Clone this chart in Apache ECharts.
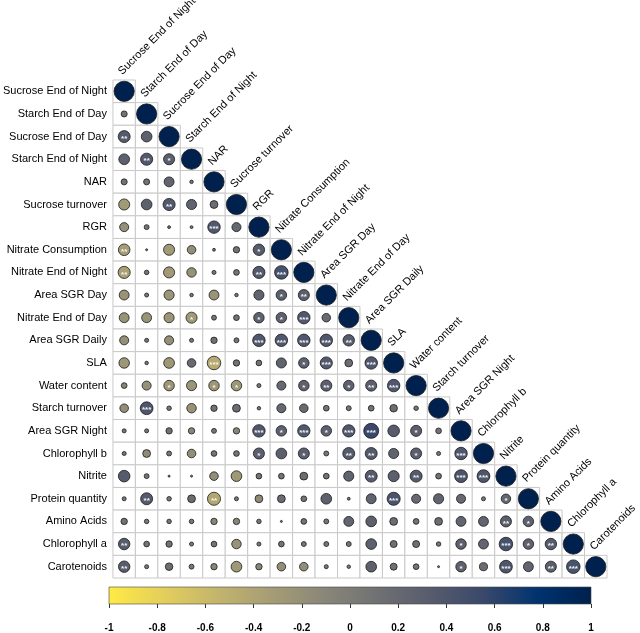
<!DOCTYPE html>
<html><head><meta charset="utf-8">
<script src="https://cdn.jsdelivr.net/npm/echarts@6/dist/echarts.min.js"></script>
<style>html,body{margin:0;padding:0;background:#fff}#c{width:640px;height:633px}</style>
</head><body><div id="c"></div>
<script>
const variables = ['Sucrose End of Night','Starch End of Day','Sucrose End of Day','Starch End of Night','NAR','Sucrose turnover','RGR','Nitrate Consumption','Nitrate End of Night','Area SGR Day','Nitrate End of Day','Area SGR Daily','SLA','Water content','Starch turnover','Area SGR Night','Chlorophyll b','Nitrite','Protein quantity','Amino Acids','Chlorophyll a','Carotenoids'];

// lower-triangle correlations: row i lists columns 0..i-1 (diagonal = 1)
const corrRows = [
  [],
  [0.09],
  [0.35, 0.28],
  [0.28, 0.36, 0.30],
  [0.09, 0.09, 0.24, 0.03],
  [-0.30, 0.28, 0.36, 0.25, 0.15],
  [-0.20, 0.06, 0.02, 0.02, 0.38, 0.20],
  [-0.33, 0.01, -0.30, -0.18, 0.02, 0.10, 0.32],
  [-0.36, 0.05, -0.30, -0.22, 0.04, 0.08, 0.36, 0.45],
  [-0.24, 0.04, -0.25, 0.03, -0.24, 0.03, 0.25, 0.27, 0.30],
  [-0.24, -0.24, -0.25, -0.30, 0.06, 0.08, 0.27, 0.27, 0.38, 0.18],
  [-0.20, 0.04, -0.20, 0.04, 0.10, 0.06, 0.38, 0.38, 0.38, 0.38, 0.32],
  [-0.27, 0.03, -0.28, 0.18, -0.45, 0.10, 0.08, 0.25, 0.27, 0.36, 0.15, 0.38],
  [-0.08, -0.20, -0.27, -0.25, -0.27, -0.27, 0.04, 0.20, 0.27, 0.30, 0.27, 0.30, 0.38],
  [-0.18, 0.40, 0.05, -0.22, 0.10, 0.15, 0.03, 0.20, 0.18, 0.08, 0.06, 0.08, 0.14, 0.05],
  [0.04, 0.04, 0.10, -0.10, 0.06, -0.10, 0.38, 0.27, 0.37, 0.27, 0.37, 0.55, 0.33, 0.30, 0.08],
  [0.04, -0.15, 0.06, -0.18, 0.08, 0.08, 0.30, 0.28, 0.30, 0.06, 0.35, 0.35, 0.25, 0.30, 0.04, 0.38],
  [0.33, 0.06, 0.01, 0.01, -0.18, -0.28, 0.08, 0.08, 0.15, 0.08, 0.25, 0.35, 0.30, 0.35, 0.08, 0.40, 0.40],
  [0.04, 0.35, 0.05, 0.15, -0.42, 0.04, -0.15, 0.15, 0.08, 0.28, 0.02, 0.24, 0.42, 0.20, 0.25, 0.20, 0.04, 0.22],
  [0.10, 0.05, 0.05, 0.05, -0.10, -0.10, 0.05, 0.01, 0.08, 0.06, 0.24, 0.28, 0.15, 0.08, 0.15, 0.24, 0.24, 0.30, 0.27],
  [0.32, 0.08, 0.10, 0.04, 0.08, -0.22, 0.04, 0.08, 0.06, 0.06, 0.06, 0.28, 0.12, 0.12, 0.05, 0.27, 0.24, 0.45, 0.27, 0.32],
  [0.32, 0.04, 0.14, 0.06, -0.10, -0.28, -0.10, -0.18, -0.18, 0.04, 0.03, 0.28, 0.12, 0.08, 0.01, 0.27, 0.16, 0.40, 0.24, 0.30, 0.45]
];

const sigRows = [
  [],
  [''],
  ['**',''],
  ['','**','*'],
  ['','','',''],
  ['','','**','',''],
  ['','','','','***',''],
  ['**','','','','','','*'],
  ['**','','','','','','**','***'],
  ['','','','','','','','*','**'],
  ['','','','*','','','*','*','***',''],
  ['','','','','','','***','***','***','***','**'],
  ['','','','','***','','','','*','***','','***'],
  ['','','*','','*','*','','','*','**','*','**','***'],
  ['','***','','','','','','','','','','','',''],
  ['','','','','','','***','*','***','*','***','***','','*',''],
  ['','','','','','','*','','*','','**','**','','*','','***'],
  ['','','','','','','','','','','','**','','**','','***','***'],
  ['','**','','','**','','','','','','','','***','','','','','*'],
  ['','','','','','','','','','','','','','','','','','**','*'],
  ['**','','','','','','','','','','','','','','','*','','***','*','**'],
  ['**','','','','','','','','','','','','','','','*','','***','','**','***']
];

const colorbarTicks = [-1, -0.8, -0.6, -0.4, -0.2, 0, 0.2, 0.4, 0.6, 0.8, 1];
const cividisRev = ['#FFEA46','#E4CF5B','#C4B56C','#A69D75','#8A8779','#707173','#575C6D','#39486B','#00336F','#00204D'];

const cells = [], circles = [], circleSig = [];
for (let i = 0; i < variables.length; i++) {
  for (let j = 0; j <= i; j++) {
    cells.push([j, i]);
    circles.push([j, i, j === i ? 1 : corrRows[i][j]]);
    circleSig.push(j === i ? '' : sigRows[i][j]);
  }
}
const diagLabels = variables.map((n, i) => [i, i]);

const FONT = '"Liberation Sans", Arial, sans-serif';
const chart = echarts.init(document.getElementById('c'), null, {renderer: 'canvas'});
chart.setOption({
  animation: false,
  backgroundColor: '#fff',
  grid: [
    {left: 109, top: 80, width: 498, height: 498},
    {left: 109, top: 587, width: 482, height: 19}
  ],
  xAxis: [
    {gridIndex: 0, type: 'category', data: variables, axisLabel: {show: false}, axisLine: {show: false}, axisTick: {show: false}, splitLine: {show: false}},
    {gridIndex: 1, type: 'value', min: -1, max: 1, interval: 0.2,
     axisLine: {show: false}, splitLine: {show: false},
     axisTick: {show: true, length: 4, lineStyle: {color: '#333', width: 1}},
     axisLabel: {fontSize: 10, fontWeight: 'bold', color: '#000', margin: 19, fontFamily: FONT,
       formatter: v => { const t = colorbarTicks.find(x => Math.abs(x - v) < 1e-6); return t === undefined ? '' : String(t); }}}
  ],
  yAxis: [
    {gridIndex: 0, type: 'category', data: variables, inverse: true, axisLine: {show: false}, axisTick: {show: false}, splitLine: {show: false},
     axisLabel: {fontSize: 11, color: '#000', margin: 6, fontFamily: FONT}},
    {gridIndex: 1, type: 'value', min: 0, max: 1, show: false}
  ],
  visualMap: {
    type: 'continuous', show: false, min: -1, max: 1, dimension: 2, seriesIndex: 1,
    inRange: {color: cividisRev}
  },
  series: [
    {
      type: 'custom', xAxisIndex: 0, yAxisIndex: 0, data: cells, silent: true,
      renderItem: (params, api) => {
        const c = api.coord([api.value(0), api.value(1)]);
        const s = api.size([1, 1]);
        return {type: 'rect', shape: {x: c[0] - s[0] / 2, y: c[1] - s[1] / 2, width: s[0], height: s[1]},
          style: {fill: '#fff', stroke: '#c9c9c9', lineWidth: 1}};
      }
    },
    {
      type: 'custom', xAxisIndex: 0, yAxisIndex: 0, data: circles, silent: true,
      renderItem: (params, api) => {
        const c = api.coord([api.value(0), api.value(1)]);
        const s = api.size([1, 1]);
        const v = api.value(2);
        const r = s[0] * 0.45 * Math.sqrt(Math.abs(v));
        const children = [{type: 'circle', shape: {cx: c[0], cy: c[1], r: r},
          style: {fill: api.visual('color'), stroke: '#1a1a1a', lineWidth: 0.8}}];
        const sig = circleSig[params.dataIndex];
        if (sig) {
          children.push({type: 'text', x: c[0], y: c[1] + 2,
            style: {text: sig, fill: '#f2f2f2', font: 'bold 8px ' + FONT, textAlign: 'center', textVerticalAlign: 'middle'}});
        }
        return {type: 'group', children: children};
      }
    },
    {
      type: 'custom', xAxisIndex: 0, yAxisIndex: 0, data: diagLabels, silent: true,
      renderItem: (params, api) => {
        const c = api.coord([api.value(0), api.value(1)]);
        const s = api.size([1, 1]);
        return {type: 'text', x: c[0] - 4, y: c[1] - s[1] / 2 - 7, rotation: Math.PI / 4,
          style: {text: variables[params.dataIndex], fill: '#000', font: '11px ' + FONT, textAlign: 'left', textVerticalAlign: 'middle'}};
      }
    },
    {
      type: 'custom', xAxisIndex: 1, yAxisIndex: 1, data: [[-1, 1, 1, 0]], silent: true,
      renderItem: (params, api) => {
        const p0 = api.coord([api.value(0), api.value(1)]);
        const p1 = api.coord([api.value(2), api.value(3)]);
        const stops = cividisRev.map((col, k) => ({offset: k / (cividisRev.length - 1), color: col}));
        return {type: 'rect', shape: {x: p0[0], y: p0[1], width: p1[0] - p0[0], height: p1[1] - p0[1]},
          style: {fill: new echarts.graphic.LinearGradient(0, 0, 1, 0, stops), stroke: '#444', lineWidth: 0.6}};
      }
    }
  ]
});
</script></body></html>
